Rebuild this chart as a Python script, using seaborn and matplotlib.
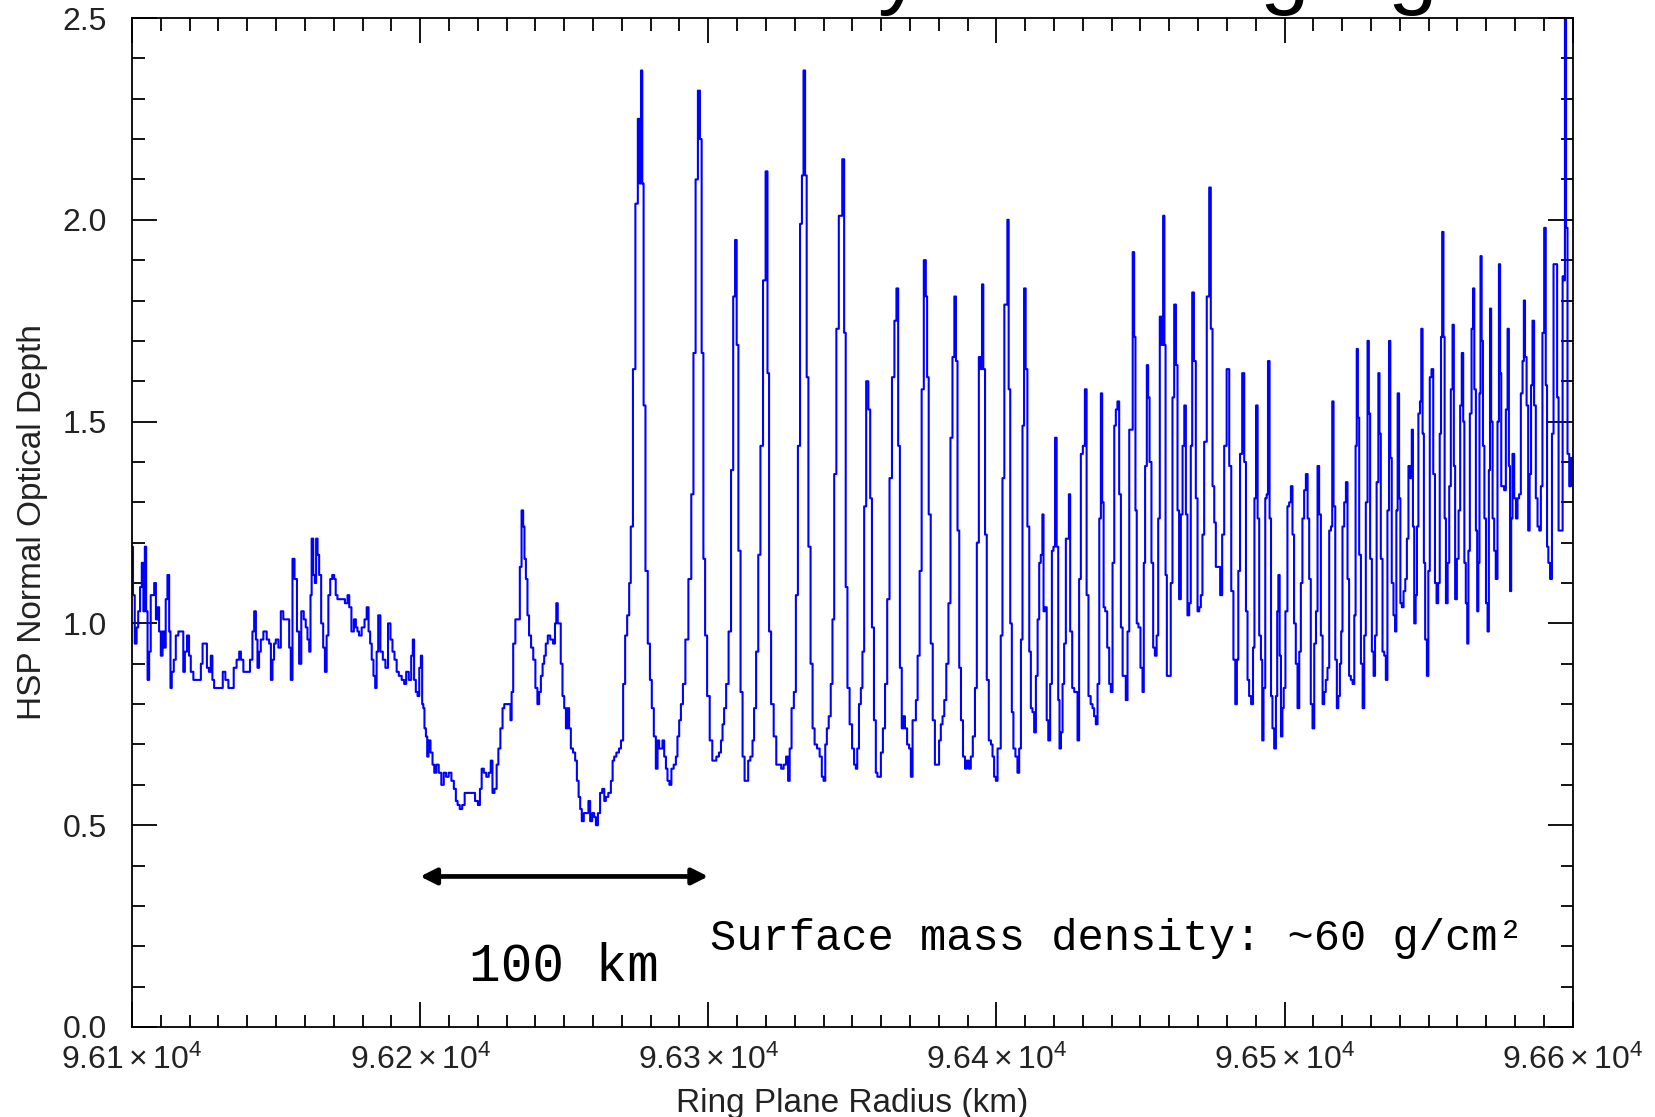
import matplotlib
matplotlib.use("Agg")
import matplotlib.pyplot as plt
import seaborn as sns
import pandas as pd
from matplotlib import font_manager
from matplotlib.ticker import MultipleLocator, FixedLocator, FixedFormatter

# ---------------- data (radius km, normal optical depth) ----------------
inner_profile = [
    (96100.0, 1.19), (96100.2, 1.19), (96100.5, 1.07), (96101.4, 0.95), (96101.8, 0.99),
    (96102.5, 1.03), (96103.1, 1.09), (96103.7, 1.15), (96104.2, 1.03), (96104.7, 1.19),
    (96105.1, 1.03), (96105.7, 0.86), (96106.2, 0.93), (96106.8, 1.07), (96107.4, 1.07),
    (96108.0, 1.10), (96108.6, 1.01), (96109.1, 1.04), (96109.7, 0.98), (96110.3, 0.92),
    (96110.9, 0.98), (96111.4, 0.94), (96112.0, 1.06), (96112.6, 1.12), (96113.2, 0.98),
    (96113.5, 0.84), (96114.1, 0.88), (96114.9, 0.91), (96115.5, 0.97), (96116.7, 0.98),
    (96117.6, 0.98), (96118.0, 0.88), (96118.7, 0.93), (96119.5, 0.97), (96120.1, 0.92),
    (96120.7, 0.88), (96121.9, 0.86), (96123.6, 0.86), (96124.2, 0.90), (96124.8, 0.95),
    (96125.7, 0.95), (96126.3, 0.89), (96127.1, 0.88), (96127.6, 0.92), (96128.2, 0.86),
    (96128.8, 0.84), (96130.0, 0.84), (96131.1, 0.84), (96131.9, 0.88), (96132.9, 0.86),
    (96134.0, 0.84), (96134.9, 0.84), (96135.7, 0.89), (96136.9, 0.91), (96137.5, 0.93),
    (96138.1, 0.91), (96139.2, 0.88), (96140.4, 0.88), (96141.5, 0.91), (96142.1, 0.98),
    (96142.7, 1.03), (96143.3, 0.96), (96143.8, 0.89), (96144.4, 0.93), (96145.0, 0.96),
    (96146.2, 0.98), (96147.3, 0.96), (96147.9, 0.95), (96148.5, 0.86), (96149.0, 0.91),
    (96149.6, 0.95), (96150.2, 0.96), (96151.4, 0.94), (96151.9, 1.03), (96153.1, 1.01),
    (96154.3, 1.01), (96154.8, 0.94), (96155.4, 0.86), (96156.0, 1.16), (96156.8, 1.11),
    (96157.7, 0.98), (96158.3, 0.90), (96159.2, 1.03), (96160.0, 1.01), (96160.6, 0.99),
    (96161.2, 0.96), (96161.8, 0.93), (96162.1, 1.07), (96162.6, 1.21), (96163.2, 1.12),
    (96163.7, 1.10), (96164.1, 1.21), (96164.7, 1.17), (96165.2, 1.12), (96166.1, 1.00),
    (96166.6, 0.94), (96167.3, 0.88), (96167.8, 0.97), (96168.5, 1.07), (96169.1, 1.11),
    (96169.9, 1.12), (96170.4, 1.11), (96171.0, 1.07), (96171.6, 1.06), (96173.3, 1.06),
    (96174.5, 1.05), (96175.1, 1.07), (96175.7, 1.04), (96176.6, 0.98), (96177.4, 1.01),
    (96178.0, 0.99), (96178.5, 0.98), (96179.1, 0.97), (96180.3, 0.99), (96181.1, 1.01),
    (96181.8, 1.04), (96182.4, 0.98), (96182.9, 0.95), (96183.5, 0.91), (96184.1, 0.87),
    (96184.7, 0.84), (96185.1, 0.93), (96185.8, 1.02), (96186.6, 0.93), (96187.5, 0.91),
    (96188.4, 0.89), (96189.3, 1.00), (96190.1, 0.96), (96190.7, 0.93), (96191.5, 0.91),
    (96192.2, 0.88), (96193.0, 0.87), (96194.2, 0.86), (96194.7, 0.85), (96195.6, 0.88),
    (96196.5, 0.86), (96197.3, 0.92), (96197.6, 0.96), (96198.2, 0.86), (96198.8, 0.83),
    (96199.4, 0.82), (96200.0, 0.89), (96200.5, 0.92), (96200.9, 0.80), (96201.3, 0.79),
    (96201.7, 0.74), (96202.3, 0.72), (96202.6, 0.67), (96203.2, 0.71), (96204.0, 0.68),
    (96204.6, 0.65), (96205.2, 0.63), (96206.0, 0.65), (96206.9, 0.63), (96207.8, 0.60),
    (96208.6, 0.63), (96209.4, 0.62), (96210.4, 0.63), (96211.3, 0.61), (96212.1, 0.59),
    (96212.7, 0.56), (96213.3, 0.55), (96214.2, 0.54), (96215.0, 0.55), (96215.9, 0.58),
    (96217.3, 0.58), (96218.5, 0.58), (96219.6, 0.56), (96220.5, 0.55), (96221.0, 0.59),
    (96221.7, 0.64), (96222.5, 0.63), (96223.4, 0.62), (96224.2, 0.63), (96224.8, 0.66),
    (96225.4, 0.58), (96226.2, 0.59), (96226.9, 0.65),
]

middle_profile = [
    (96227.4, 0.69), (96228.3, 0.74), (96228.9, 0.79), (96229.5, 0.80), (96230.4, 0.80),
    (96231.2, 0.80), (96231.5, 0.76), (96232.0, 0.83), (96232.6, 0.95), (96233.5, 1.01),
    (96234.3, 1.01), (96234.9, 1.14), (96235.5, 1.28), (96236.0, 1.24), (96236.4, 1.16),
    (96237.0, 1.11), (96237.5, 1.02), (96238.1, 0.97), (96238.9, 0.94), (96239.6, 0.91),
    (96240.4, 0.84), (96241.0, 0.80), (96241.6, 0.83), (96242.2, 0.87), (96242.8, 0.90),
    (96243.3, 0.92), (96243.9, 0.95), (96244.7, 0.97), (96245.6, 0.96), (96246.6, 0.95),
    (96247.0, 1.00), (96247.5, 1.05), (96248.0, 1.00), (96248.5, 1.00), (96249.1, 0.90),
    (96249.7, 0.82), (96250.3, 0.79), (96250.9, 0.74), (96251.4, 0.79), (96252.0, 0.74),
    (96252.6, 0.69), (96253.5, 0.68), (96254.1, 0.66), (96254.7, 0.61), (96255.3, 0.57),
    (96255.8, 0.54), (96256.4, 0.51), (96257.2, 0.53), (96258.1, 0.53), (96258.7, 0.56),
    (96259.3, 0.51), (96260.1, 0.53), (96260.7, 0.52), (96261.3, 0.50), (96262.1, 0.53),
    (96262.8, 0.58), (96263.6, 0.59), (96264.2, 0.56), (96264.7, 0.57), (96265.9, 0.58),
    (96266.5, 0.61), (96267.1, 0.66), (96267.6, 0.67), (96268.6, 0.68), (96269.4, 0.69),
    (96270.0, 0.71), (96270.9, 0.85), (96271.4, 0.97), (96272.3, 1.02), (96272.8, 1.10),
    (96273.4, 1.24), (96274.3, 1.63), (96275.1, 2.04), (96276.0, 2.25), (96276.4, 2.09),
    (96276.9, 2.37), (96277.3, 2.09), (96277.8, 1.54), (96278.6, 1.13), (96279.4, 0.95),
    (96280.1, 0.86), (96280.7, 0.79), (96281.5, 0.72), (96282.1, 0.64), (96282.7, 0.71),
    (96283.2, 0.69), (96283.8, 0.69), (96284.4, 0.71), (96285.0, 0.67), (96285.6, 0.64),
    (96286.1, 0.61), (96286.9, 0.60), (96287.5, 0.64), (96288.5, 0.65), (96289.0, 0.67),
    (96289.6, 0.72), (96290.2, 0.76), (96290.8, 0.80), (96291.6, 0.85), (96292.5, 0.96),
    (96293.7, 1.11), (96294.5, 1.32), (96295.2, 1.67), (96296.0, 2.10), (96296.8, 2.32),
    (96297.4, 2.20), (96298.0, 1.67), (96298.6, 1.16), (96299.2, 0.97), (96300.0, 0.82),
    (96301.0, 0.71), (96301.8, 0.66), (96302.3, 0.66), (96303.3, 0.67), (96304.1, 0.68),
    (96304.7, 0.71), (96305.2, 0.75), (96305.8, 0.79), (96306.6, 0.85), (96307.5, 0.98),
    (96308.3, 1.38), (96309.0, 1.81), (96309.6, 1.95), (96310.1, 1.69), (96310.8, 1.18),
    (96311.6, 0.83), (96312.2, 0.67), (96313.0, 0.61), (96313.6, 0.61), (96314.1, 0.66),
    (96315.1, 0.67), (96315.6, 0.71), (96316.2, 0.79), (96317.0, 0.93), (96317.7, 1.17),
    (96318.5, 1.44), (96319.5, 1.85), (96320.3, 2.12), (96320.8, 1.62), (96321.4, 0.98),
    (96322.2, 0.80), (96323.2, 0.72), (96324.0, 0.65), (96324.9, 0.65), (96325.7, 0.64),
    (96326.6, 0.65), (96327.4, 0.67), (96328.0, 0.61), (96328.5, 0.69), (96329.3, 0.79),
    (96330.1, 0.83), (96330.7, 1.07), (96331.5, 1.44), (96332.2, 1.99), (96332.8, 2.11),
    (96333.3, 2.37), (96333.9, 2.11), (96334.4, 1.61), (96335.1, 1.19), (96335.9, 0.90),
    (96336.5, 0.74), (96337.3, 0.70), (96338.2, 0.69), (96339.1, 0.67), (96339.7, 0.62),
    (96340.3, 0.61), (96340.9, 0.70), (96341.4, 0.74), (96342.2, 0.77), (96342.8, 0.85),
    (96343.4, 1.01), (96344.0, 1.37), (96344.9, 1.73), (96345.7, 2.01), (96346.1, 2.01),
    (96346.9, 2.15), (96347.4, 1.72), (96348.0, 1.09), (96348.6, 0.84), (96349.5, 0.75),
    (96350.3, 0.69), (96350.9, 0.65), (96351.5, 0.64), (96351.9, 0.69), (96352.7, 0.80),
    (96353.2, 0.84),
]

outer_profile = [
    (96353.8, 0.93), (96354.4, 1.29), (96355.2, 1.60), (96355.9, 1.53), (96356.5, 1.31),
    (96357.1, 0.99), (96357.9, 0.76), (96358.4, 0.63), (96359.0, 0.62), (96359.6, 0.62),
    (96360.2, 0.68), (96361.0, 0.74), (96361.7, 0.85), (96362.5, 1.06), (96363.3, 1.36),
    (96364.2, 1.61), (96365.0, 1.75), (96365.6, 1.83), (96366.2, 1.44), (96366.8, 0.89),
    (96367.5, 0.74), (96367.9, 0.77), (96368.6, 0.74), (96369.4, 0.70), (96370.0, 0.69),
    (96370.6, 0.62), (96371.2, 0.76), (96371.8, 0.76), (96372.3, 0.81), (96373.0, 0.92),
    (96373.7, 1.13), (96374.4, 1.58), (96375.2, 1.90), (96375.8, 1.81), (96376.1, 1.61),
    (96376.9, 1.27), (96377.5, 0.95), (96378.3, 0.76), (96379.0, 0.65), (96379.8, 0.65),
    (96380.4, 0.71), (96381.0, 0.75), (96381.6, 0.77), (96382.2, 0.81), (96383.0, 0.90),
    (96383.7, 1.05), (96384.4, 1.46), (96385.1, 1.66), (96385.7, 1.81), (96386.2, 1.65),
    (96386.8, 1.23), (96387.4, 0.89), (96388.0, 0.76), (96388.8, 0.67), (96389.4, 0.64),
    (96390.0, 0.66), (96390.8, 0.64), (96391.4, 0.67), (96392.2, 0.72), (96392.9, 0.84),
    (96393.5, 1.20), (96394.3, 1.66), (96394.8, 1.63), (96395.2, 1.84), (96395.7, 1.63),
    (96396.4, 1.22), (96396.9, 0.86), (96397.8, 0.71), (96398.4, 0.70), (96398.9, 0.67),
    (96399.5, 0.62), (96400.1, 0.61), (96400.7, 0.69), (96401.2, 0.69), (96401.8, 0.97),
    (96402.4, 1.36), (96403.1, 1.79), (96403.6, 1.79), (96404.0, 2.00), (96404.5, 1.58),
    (96405.1, 1.00), (96405.6, 0.78), (96406.2, 0.69), (96407.0, 0.67), (96407.6, 0.63),
    (96408.2, 0.69), (96408.8, 0.96), (96409.3, 1.49), (96409.9, 1.83), (96410.4, 1.63),
    (96411.1, 1.24), (96411.7, 0.93), (96412.2, 0.79), (96412.8, 0.78), (96413.4, 0.73),
    (96414.0, 0.87), (96414.6, 1.01), (96415.1, 1.15), (96415.7, 1.17), (96416.2, 1.27),
    (96416.5, 1.03), (96417.2, 1.04), (96417.7, 0.76), (96418.3, 0.71), (96419.0, 0.85),
    (96419.5, 1.18), (96420.1, 1.19), (96420.6, 1.46), (96421.2, 1.19), (96421.7, 0.81),
    (96422.1, 0.69), (96422.7, 0.73), (96423.2, 0.85), (96423.8, 0.95), (96424.4, 1.21),
    (96425.0, 1.21), (96425.3, 1.32), (96425.9, 0.98), (96426.7, 0.84), (96427.3, 0.83),
    (96427.9, 0.83), (96428.4, 0.71), (96429.0, 1.11), (96429.6, 1.42), (96430.4, 1.44),
    (96431.0, 1.58), (96431.6, 1.07), (96432.3, 0.82), (96433.1, 0.80), (96433.6, 0.79),
    (96434.2, 0.77), (96434.8, 0.75), (96435.4, 0.85), (96436.0, 1.26), (96436.5, 1.57),
    (96436.9, 1.30), (96437.5, 1.04), (96438.0, 1.03), (96438.9, 0.94), (96439.4, 0.85),
    (96440.0, 0.83), (96440.6, 1.15), (96441.2, 1.49), (96441.7, 1.53), (96442.3, 1.55),
    (96442.9, 1.32), (96443.5, 0.99), (96444.1, 0.87), (96444.6, 0.87), (96445.2, 0.81),
    (96445.8, 0.98), (96446.4, 1.48), (96447.1, 1.48), (96447.5, 1.92), (96448.1, 1.71),
    (96448.4, 1.28), (96449.0, 1.00), (96449.6, 0.99), (96450.4, 0.89), (96451.0, 0.83),
    (96451.3, 1.15), (96451.9, 1.39), (96452.5, 1.64), (96452.8, 1.56), (96453.5, 1.40),
    (96454.1, 1.15), (96454.7, 0.94), (96455.3, 0.92), (96455.9, 0.97), (96456.4, 1.26),
    (96457.0, 1.76), (96457.6, 1.69), (96458.1, 2.01), (96458.5, 1.69), (96458.9, 1.12),
    (96459.4, 0.87), (96460.2, 0.87), (96460.8, 1.10), (96461.4, 1.56), (96462.0, 1.79),
    (96462.6, 1.64), (96463.1, 1.28), (96463.7, 1.06), (96464.3, 1.27), (96464.9, 1.44),
    (96465.5, 1.54), (96466.0, 1.27), (96466.6, 1.02), (96467.2, 1.05), (96467.7, 1.44),
    (96468.2, 1.82), (96468.9, 1.65), (96469.5, 1.31), (96470.1, 1.03), (96470.7, 1.04),
    (96471.2, 1.07), (96471.8, 1.22), (96472.4, 1.45), (96473.6, 1.81), (96474.1, 2.08),
    (96474.7, 1.73), (96475.3, 1.34), (96475.9, 1.25), (96476.4, 1.14), (96477.4, 1.14),
    (96477.9, 1.07), (96478.8, 1.22), (96479.3, 1.44), (96480.5, 1.63),
]

edge_profile = [
    (96481.1, 1.39), (96481.9, 1.08), (96482.6, 0.91), (96483.2, 0.80), (96483.7, 0.91),
    (96484.2, 1.13), (96484.9, 1.42), (96485.7, 1.62), (96486.3, 1.40), (96486.9, 1.03),
    (96487.4, 0.86), (96488.0, 0.82), (96488.8, 0.80), (96489.3, 0.94), (96489.8, 1.31),
    (96490.4, 1.54), (96490.9, 1.26), (96491.5, 0.97), (96492.1, 0.91), (96492.4, 0.71),
    (96493.0, 0.84), (96493.6, 1.31), (96494.0, 1.32), (96494.5, 1.65), (96495.1, 1.26),
    (96495.5, 0.82), (96496.1, 0.74), (96496.7, 0.69), (96497.3, 0.82), (96497.6, 1.03),
    (96498.1, 1.12), (96498.5, 0.92), (96499.0, 0.72), (96499.5, 0.79), (96499.9, 0.84),
    (96500.7, 1.03), (96501.3, 1.29), (96501.9, 1.30), (96502.5, 1.34), (96503.0, 1.22),
    (96503.6, 1.00), (96504.2, 0.90), (96504.8, 0.79), (96505.4, 0.93), (96505.9, 1.10),
    (96506.5, 1.26), (96507.1, 1.33), (96507.7, 1.37), (96508.3, 1.26), (96508.8, 1.11),
    (96509.4, 0.80), (96510.0, 0.74), (96510.6, 0.95), (96511.2, 1.03), (96511.7, 1.39),
    (96512.3, 1.27), (96512.9, 0.97), (96513.5, 0.80), (96514.0, 0.83), (96514.6, 0.86),
    (96515.2, 0.89), (96515.8, 1.23), (96516.4, 1.24), (96516.7, 1.55), (96517.3, 1.29),
    (96517.9, 0.91), (96518.4, 0.79), (96518.9, 0.82), (96519.5, 0.90), (96519.8, 0.98),
    (96520.4, 1.24), (96521.0, 1.30), (96521.6, 1.35), (96522.1, 1.11), (96522.7, 0.87),
    (96523.3, 0.86), (96523.9, 0.85), (96524.5, 1.02), (96524.8, 1.44), (96525.3, 1.68),
    (96525.6, 1.51), (96526.2, 1.17), (96526.8, 0.90), (96527.4, 0.79), (96527.9, 0.97),
    (96528.5, 1.30), (96529.1, 1.70), (96529.4, 1.52), (96530.0, 1.16), (96530.6, 0.93),
    (96531.2, 0.87), (96531.6, 0.97), (96532.3, 1.35), (96532.8, 1.62), (96533.1, 1.47),
    (96533.7, 1.16), (96534.3, 0.93), (96534.9, 0.92), (96535.4, 0.86), (96536.0, 1.28),
    (96536.5, 1.70), (96536.9, 1.41), (96537.5, 1.10), (96538.1, 1.02), (96538.6, 0.98),
    (96539.0, 1.28), (96539.5, 1.57), (96540.0, 1.31), (96540.4, 1.05), (96541.0, 1.04),
    (96541.6, 1.08), (96542.2, 1.11), (96542.7, 1.21), (96543.3, 1.39), (96543.9, 1.36),
    (96544.4, 1.48), (96544.7, 1.24), (96545.3, 1.00), (96545.7, 1.07), (96546.2, 1.24),
    (96546.7, 1.52), (96547.3, 1.55), (96547.6, 1.73), (96548.2, 1.47), (96548.5, 1.15),
    (96549.1, 0.96), (96549.7, 0.87), (96550.1, 1.13), (96550.7, 1.61), (96551.3, 1.63),
    (96551.9, 1.37), (96552.5, 1.10), (96553.0, 1.05), (96553.6, 1.10), (96554.1, 1.47),
    (96554.5, 1.71), (96554.9, 1.97), (96555.4, 1.71), (96555.7, 1.26), (96556.3, 1.05),
    (96556.9, 1.15), (96557.4, 1.34), (96558.0, 1.58), (96558.6, 1.74), (96558.9, 1.39),
    (96559.5, 1.06), (96560.1, 1.16), (96560.7, 1.28), (96561.2, 1.54), (96561.8, 1.67),
    (96562.2, 1.50), (96562.6, 1.15), (96563.2, 1.05), (96563.6, 0.95), (96564.0, 1.18),
    (96564.6, 1.52), (96565.2, 1.73), (96565.6, 1.83), (96566.1, 1.58), (96566.7, 1.23),
    (96567.0, 1.03), (96567.5, 1.15), (96567.8, 1.57), (96568.2, 1.91), (96568.6, 1.70),
    (96569.1, 1.44), (96569.6, 1.26), (96570.2, 1.05), (96570.7, 0.98), (96571.1, 1.38),
    (96571.5, 1.78), (96571.9, 1.50), (96572.5, 1.26), (96573.0, 1.18), (96573.6, 1.11),
    (96574.2, 1.50), (96574.6, 1.89), (96575.0, 1.62), (96575.4, 1.34), (96575.9, 1.34),
    (96576.5, 1.33), (96577.1, 1.53), (96577.7, 1.73), (96578.0, 1.39), (96578.5, 1.08),
    (96578.8, 1.26), (96579.4, 1.42), (96580.0, 1.31), (96580.6, 1.26), (96581.1, 1.31),
    (96581.7, 1.32), (96582.3, 1.57), (96582.9, 1.65), (96583.2, 1.80), (96583.7, 1.66),
    (96584.3, 1.54), (96584.8, 1.23), (96585.3, 1.37), (96585.8, 1.59), (96586.3, 1.75),
    (96586.9, 1.54), (96587.5, 1.31), (96588.1, 1.24), (96588.7, 1.23), (96589.2, 1.34),
    (96589.8, 1.72), (96590.4, 1.98), (96590.9, 1.59), (96591.3, 1.19), (96591.8, 1.15),
    (96592.5, 1.11), (96593.1, 1.47), (96593.6, 1.89), (96594.4, 1.89), (96594.8, 1.56),
    (96595.4, 1.23), (96596.2, 1.23), (96596.8, 1.86), (96597.1, 1.85), (96597.5, 2.60),
    (96597.9, 1.98), (96598.5, 1.42), (96599.1, 1.34), (96599.7, 1.41), (96600.0, 1.40),
]

x_ticks = [96100, 96200, 96300, 96400, 96500, 96600]
x_tick_labels = [r"$9.61\times10^{4}$", r"$9.62\times10^{4}$", r"$9.63\times10^{4}$",
                 r"$9.64\times10^{4}$", r"$9.65\times10^{4}$", r"$9.66\times10^{4}$"]
y_ticks = [0.0, 0.5, 1.0, 1.5, 2.0, 2.5]
y_tick_labels = ["0.0", "0.5", "1.0", "1.5", "2.0", "2.5"]
scale_bar = (96200, 96300, 0.373)

# ---------------- styling ----------------
sns.set_theme(style="ticks")


def has_font(name):
    try:
        font_manager.findfont(font_manager.FontProperties(family=name), fallback_to_default=False)
        return True
    except Exception:
        return False


sans = "Liberation Sans" if has_font("Liberation Sans") else "DejaVu Sans"
mono = "Liberation Mono" if has_font("Liberation Mono") else "DejaVu Sans Mono"
plt.rcParams["font.family"] = [sans, "DejaVu Sans"]
plt.rcParams["mathtext.fontset"] = "custom"
plt.rcParams["mathtext.rm"] = sans
plt.rcParams["mathtext.it"] = sans + ":italic"
plt.rcParams["mathtext.bf"] = sans + ":bold"

W, H = 1656, 1117
fig = plt.figure(figsize=(W / 100, H / 100), dpi=100)
fig.patch.set_facecolor("white")
ax_left, ax_right, ax_top, ax_bottom = 132, 1572.7, 18, 1027
ax = fig.add_axes([ax_left / W, 1 - ax_bottom / H, (ax_right - ax_left) / W, (ax_bottom - ax_top) / H])
ax.set_facecolor("white")

profile = inner_profile + middle_profile + outer_profile + edge_profile
df = pd.DataFrame(profile, columns=["radius", "tau"])
sns.lineplot(data=df, x="radius", y="tau", ax=ax, color="#0000ff", linewidth=1.5,
             drawstyle="steps-mid", estimator=None, sort=False)

ax.set_xlim(96100, 96600)
ax.set_ylim(0, 2.5)

for s in ax.spines.values():
    s.set_visible(True)
    s.set_color("black")
    s.set_linewidth(1.3)

ax.xaxis.set_major_locator(FixedLocator(x_ticks))
ax.xaxis.set_major_formatter(FixedFormatter(x_tick_labels))
ax.xaxis.set_minor_locator(MultipleLocator(10))
ax.yaxis.set_major_locator(FixedLocator(y_ticks))
ax.yaxis.set_major_formatter(FixedFormatter(y_tick_labels))
ax.yaxis.set_minor_locator(MultipleLocator(0.1))
ax.tick_params(which="both", direction="in", top=True, right=True, color="black", width=1.3)
ax.tick_params(which="major", length=18)
ax.tick_params(which="minor", length=9)
ax.tick_params(axis="x", which="major", labelsize=23, pad=13, labelcolor="#222222")
ax.tick_params(axis="y", which="major", labelsize=23, pad=18, labelcolor="#222222")

ax.set_xlabel("Ring Plane Radius (km)", fontsize=24, color="#222222")
ax.set_ylabel("HSP Normal Optical Depth", fontsize=24, color="#222222")
ax.xaxis.set_label_coords(0.5, -0.06)
ax.yaxis.set_label_coords(-0.058, 0.5)

# scale bar annotation
ax.annotate("", xy=(scale_bar[0], scale_bar[2]), xytext=(scale_bar[1], scale_bar[2]),
            arrowprops=dict(arrowstyle="<|-|>", color="black", lw=3.4, mutation_scale=24,
                            shrinkA=0, shrinkB=0))
ax.text(96250, 0.114, "100 km", family=mono, fontsize=38, color="black",
        ha="center", va="baseline")
ax.text(96300.6, 0.19, "Surface mass density: ~60 g/cm\u00b2", family=mono, fontsize=31.5,
        color="black", ha="left", va="baseline")

# fragments of the slide title cut off at the top edge
for ch, xpix in [("y", 900), ("g", 1284), ("g", 1412)]:
    fig.text(xpix / W, 1 + 3 / H, ch, fontsize=64, color="black", ha="center", va="baseline")

fig.savefig("out.png", dpi=100, facecolor="white")
